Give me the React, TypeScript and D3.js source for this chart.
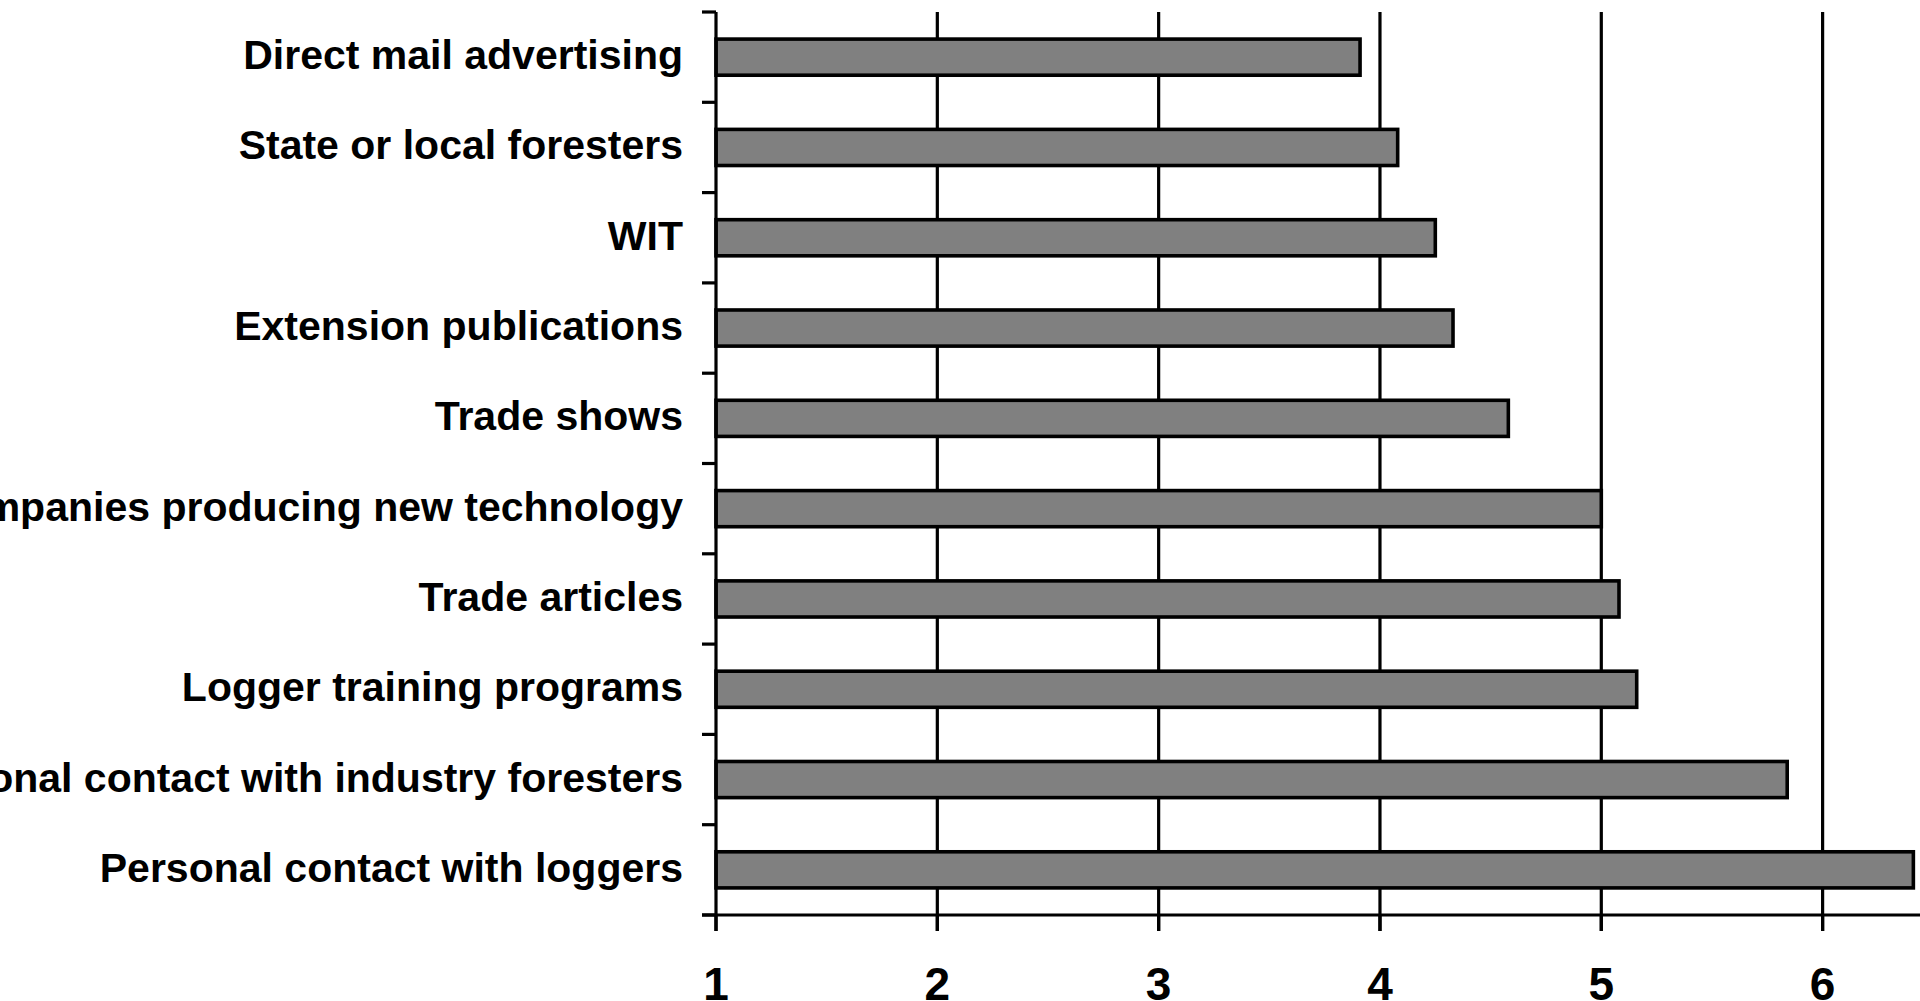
import React from "react";
import * as d3 from "d3";

// categories from top to bottom
const categories = [
  "Direct mail advertising",
  "State or local foresters",
  "WIT",
  "Extension publications",
  "Trade shows",
  "Companies producing new technology",
  "Trade articles",
  "Logger training programs",
  "Personal contact with industry foresters",
  "Personal contact with loggers",
];
const values = [3.91, 4.08, 4.25, 4.33, 4.58, 5.0, 5.08, 5.16, 5.84, 6.41];
const xTicks = [1, 2, 3, 4, 5, 6];

const App = () => {
  const width = 1920;
  const height = 1001;
  const margin = { top: 12, right: 0, bottom: 86, left: 716 };
  const axisY = height - margin.bottom;

  const xScale = d3.scaleLinear().domain([1, 6.44]).range([margin.left, width]);

  const yScale = d3
    .scaleBand()
    .domain(categories)
    .range([margin.top, axisY])
    .paddingInner(0.6)
    .paddingOuter(0.3);

  const step = yScale.step();
  const font = "'Liberation Sans', Arial, sans-serif";

  return (
    <svg
      width={width}
      height={height}
      style={{ position: "absolute", left: 0, top: 0, background: "#fff" }}
    >
      {/* vertical gridlines */}
      {xTicks.slice(1).map((t) => (
        <line
          key={"g" + t}
          x1={xScale(t)}
          x2={xScale(t)}
          y1={margin.top}
          y2={axisY + 16}
          stroke="#000"
          strokeWidth={3.2}
        />
      ))}

      {/* bars */}
      {categories.map((c, i) => (
        <rect
          key={c}
          x={xScale(1)}
          y={yScale(c)}
          width={xScale(values[i]) - xScale(1)}
          height={yScale.bandwidth()}
          fill="#808080"
          stroke="#000"
          strokeWidth={3.6}
        />
      ))}

      {/* left axis */}
      <line x1={margin.left} x2={margin.left} y1={margin.top} y2={axisY + 16} stroke="#000" strokeWidth={3.2} />
      {d3.range(categories.length + 1).map((i) => (
        <line
          key={"yt" + i}
          x1={margin.left - 14}
          x2={margin.left}
          y1={margin.top + i * step}
          y2={margin.top + i * step}
          stroke="#000"
          strokeWidth={3.2}
        />
      ))}

      {/* bottom axis */}
      <line x1={margin.left - 14} x2={width} y1={axisY} y2={axisY} stroke="#000" strokeWidth={3.2} />
      {xTicks.map((t) => (
        <line key={"xt" + t} x1={xScale(t)} x2={xScale(t)} y1={axisY} y2={axisY + 16} stroke="#000" strokeWidth={3.2} />
      ))}

      {/* category labels */}
      {categories.map((c) => (
        <text
          key={"l" + c}
          x={margin.left - 33}
          y={(yScale(c) as number) + yScale.bandwidth() / 2 + 12}
          textAnchor="end"
          fontFamily={font}
          fontWeight="bold"
          fontSize={41}
          fill="#000"
        >
          {c}
        </text>
      ))}

      {/* x tick labels */}
      {xTicks.map((t) => (
        <text
          key={"xl" + t}
          x={xScale(t)}
          y={1000}
          textAnchor="middle"
          fontFamily={font}
          fontWeight="bold"
          fontSize={46}
          fill="#000"
        >
          {t}
        </text>
      ))}
    </svg>
  );
};

export default App;
